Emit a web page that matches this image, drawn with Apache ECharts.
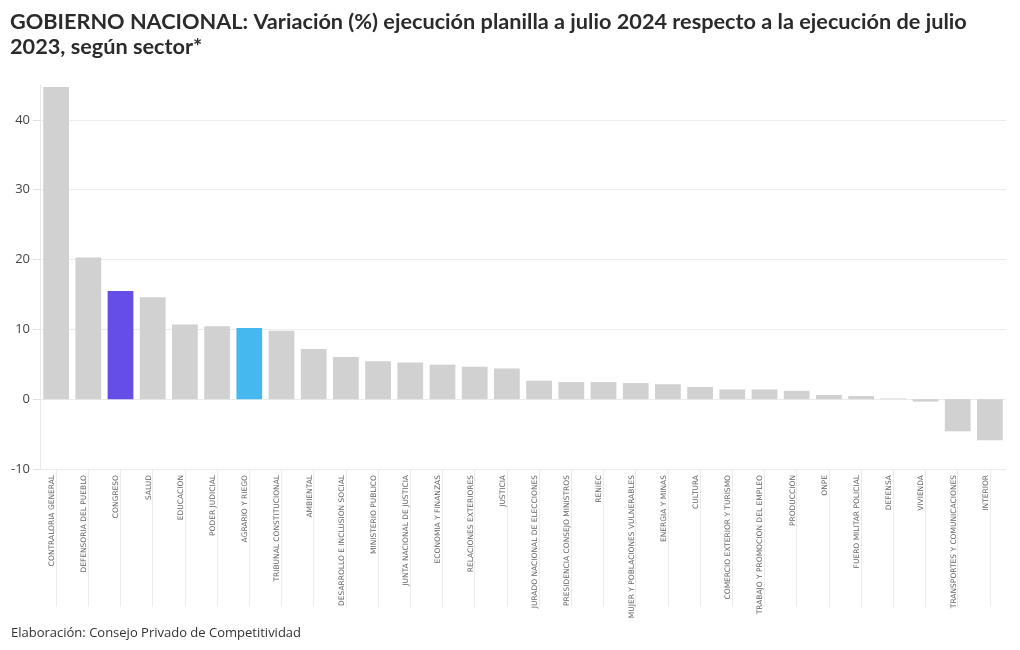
<!DOCTYPE html>
<html>
<head>
<meta charset="utf-8">
<script src="https://cdn.jsdelivr.net/npm/echarts@6/dist/echarts.min.js"></script>
<style>
html,body{margin:0;padding:0;background:#fff;}
#c{width:1020px;height:650px;}
</style>
</head>
<body>
<div id="c"></div>
<script>
const categories = [
  "CONTRALORIA GENERAL","DEFENSORIA DEL PUEBLO","CONGRESO","SALUD","EDUCACION",
  "PODER JUDICIAL","AGRARIO Y RIEGO","TRIBUNAL CONSTITUCIONAL","AMBIENTAL",
  "DESARROLLO E INCLUSION SOCIAL","MINISTERIO PUBLICO","JUNTA NACIONAL DE JUSTICIA",
  "ECONOMIA Y FINANZAS","RELACIONES EXTERIORES","JUSTICIA","JURADO NACIONAL DE ELECCIONES",
  "PRESIDENCIA CONSEJO MINISTROS","RENIEC","MUJER Y POBLACIONES VULNERABLES","ENERGIA Y MINAS",
  "CULTURA","COMERCIO EXTERIOR Y TURISMO","TRABAJO Y PROMOCION DEL EMPLEO","PRODUCCION",
  "ONPE","FUERO MILITAR POLICIAL","DEFENSA","VIVIENDA","TRANSPORTES Y COMUNICACIONES","INTERIOR"
];
const values = [
  44.7, 20.3, 15.5, 14.6, 10.7,
  10.45, 10.2, 9.8, 7.2,
  6.05, 5.45, 5.25,
  4.95, 4.65, 4.4, 2.65,
  2.45, 2.45, 2.3, 2.15,
  1.75, 1.4, 1.4, 1.2,
  0.6, 0.45, 0.1, -0.35, -4.6, -5.9
];
const highlight = { "CONGRESO": "#654ee8", "AGRARIO Y RIEGO": "#46b8f0" };
const baseColor = "#d1d1d1";
const yTicks = { min: -10, max: 45, interval: 10 };

const W = 1020, gridLeft = 40, gridRight = 14;
const half = (W - gridLeft - gridRight) / categories.length / 2;

const chart = echarts.init(document.getElementById('c'), null, { renderer: 'canvas' });
chart.setOption({
  animation: false,
  backgroundColor: '#fff',
  title: [{
    text: 'GOBIERNO NACIONAL: Variación (%) ejecución planilla a julio 2024 respecto a la ejecución de julio\n2023, según sector*',
    left: 5, top: 5,
    textStyle: { fontFamily: 'Lato', fontWeight: 'bold', fontSize: 21.7, lineHeight: 25, color: '#2b2b2b' }
  }, {
    text: 'Elaboración: Consejo Privado de Competitividad',
    left: 6, top: 622,
    textStyle: { fontFamily: 'Open Sans', fontWeight: 'normal', fontSize: 13, color: '#333' }
  }],
  grid: [
    { left: gridLeft, right: gridRight, top: 85, bottom: 181, containLabel: false },
    { left: gridLeft + half, right: gridRight + half, top: 469, height: 138, containLabel: false }
  ],
  xAxis: [{
    type: 'category',
    gridIndex: 0,
    data: categories,
    axisLine: { show: false },
    axisTick: { show: false },
    axisLabel: {
      rotate: 90, interval: 0, fontSize: 7.5, color: '#666',
      fontFamily: 'DejaVu Sans', margin: 6, verticalAlign: 'bottom'
    },
    splitLine: { show: false }
  }, {
    type: 'category',
    gridIndex: 1,
    data: categories,
    boundaryGap: false,
    axisLine: { show: false },
    axisTick: { show: false },
    axisLabel: { show: false },
    splitLine: { show: true, interval: 0, lineStyle: { color: '#ececec' } }
  }],
  yAxis: [{
    type: 'value',
    gridIndex: 0,
    min: yTicks.min, max: yTicks.max, interval: yTicks.interval,
    axisLine: { show: true, lineStyle: { color: '#e8e8e8' } },
    axisTick: { show: true, length: 7, lineStyle: { color: '#e0e0e0' } },
    axisLabel: {
      showMaxLabel: false, fontSize: 13, color: '#444', fontFamily: 'Open Sans', margin: 10,
      formatter: v => (v === yTicks.max ? '' : String(v))
    },
    splitLine: { show: true, showMaxLine: false, lineStyle: { color: '#ececec' } }
  }, {
    type: 'value',
    gridIndex: 1,
    show: false,
    splitLine: { show: false }
  }],
  series: [{
    type: 'bar',
    xAxisIndex: 0, yAxisIndex: 0,
    barWidth: '80%',
    data: values.map((v, i) => ({
      value: v,
      itemStyle: { color: highlight[categories[i]] || baseColor }
    }))
  }]
});
</script>
</body>
</html>
